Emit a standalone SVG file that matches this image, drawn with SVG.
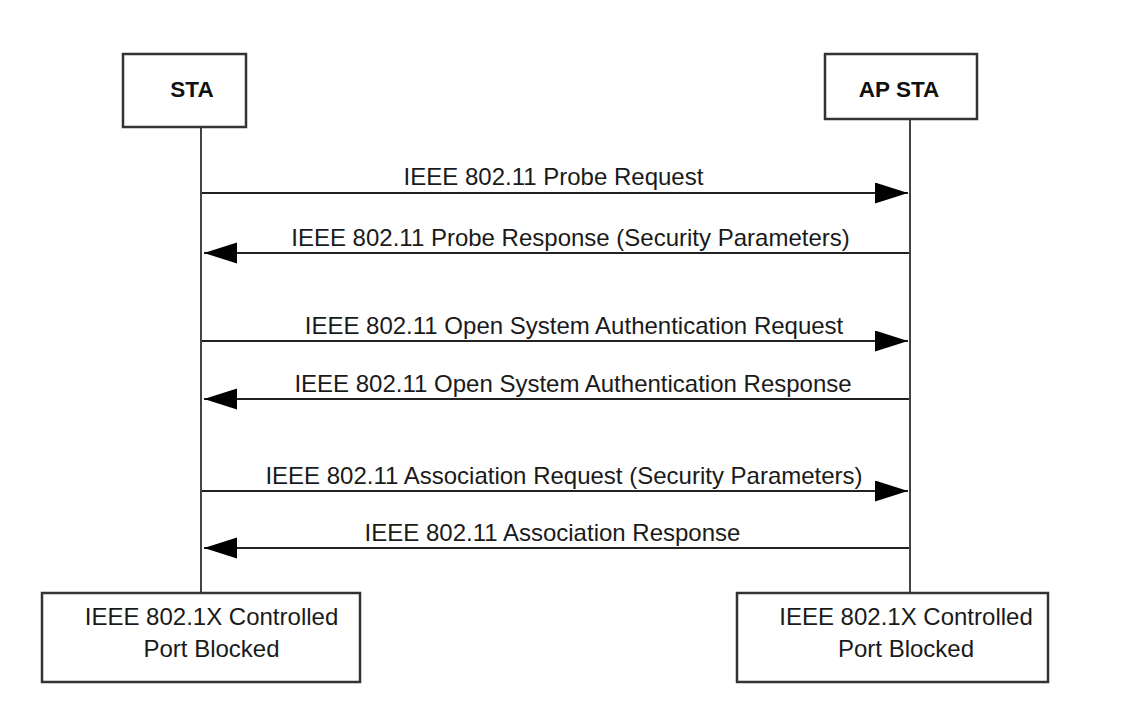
<svg xmlns="http://www.w3.org/2000/svg" width="1126" height="718" viewBox="0 0 1126 718">
<style>
.box{fill:#fff;stroke:#333;stroke-width:2.5}
.life{stroke:#444;stroke-width:2;fill:none}
.msg{stroke:#222;stroke-width:2;fill:none}
.t{font-family:"Liberation Sans",Arial,sans-serif;font-size:24px;fill:#1a1a1a;text-anchor:middle}
.b{font-family:"Liberation Sans",Arial,sans-serif;font-size:22.5px;font-weight:bold;fill:#111;text-anchor:middle}
</style>
<defs>
<marker id="ah" markerWidth="34" markerHeight="22" refX="33" refY="10.5" orient="auto" markerUnits="userSpaceOnUse">
<path d="M0,0 L33,10.5 L0,21 Z" fill="#000"/>
</marker>
</defs>
<rect width="1126" height="718" fill="#fff"/>
<g id="lifelines">
<line class="life" x1="201" y1="127" x2="201" y2="593"/>
<line class="life" x1="910" y1="119" x2="910" y2="593"/>
</g>
<g id="sta">
<rect class="box" x="123" y="54" width="123" height="73"/>
<text class="b" x="192" y="97">STA</text>
</g>
<g id="apsta">
<rect class="box" x="825" y="54" width="152" height="65"/>
<text class="b" x="899" y="97">AP STA</text>
</g>
<g id="connectors">
<line class="msg" x1="202" y1="193" x2="908" y2="193" marker-end="url(#ah)"/>
<line class="msg" x1="909" y1="253" x2="204" y2="253" marker-end="url(#ah)"/>
<line class="msg" x1="202" y1="341" x2="908" y2="341" marker-end="url(#ah)"/>
<line class="msg" x1="909" y1="399" x2="204" y2="399" marker-end="url(#ah)"/>
<line class="msg" x1="202" y1="491" x2="908" y2="491" marker-end="url(#ah)"/>
<line class="msg" x1="909" y1="548" x2="204" y2="548" marker-end="url(#ah)"/>
<text class="t" x="553.5" y="185">IEEE 802.11 Probe Request</text>
<text class="t" x="570.5" y="246">IEEE 802.11 Probe Response (Security Parameters)</text>
<text class="t" x="574" y="334">IEEE 802.11 Open System Authentication Request</text>
<text class="t" x="573" y="392">IEEE 802.11 Open System Authentication Response</text>
<text class="t" x="564" y="484">IEEE 802.11 Association Request (Security Parameters)</text>
<text class="t" x="552.5" y="541">IEEE 802.11 Association Response</text>
</g>
<g id="sta-port">
<rect class="box" x="42" y="593" width="318" height="89"/>
<text class="t" x="211.5" y="625">IEEE 802.1X Controlled</text>
<text class="t" x="211.5" y="657">Port Blocked</text>
</g>
<g id="ap-port">
<rect class="box" x="737" y="593" width="311" height="89"/>
<text class="t" x="906" y="625">IEEE 802.1X Controlled</text>
<text class="t" x="906" y="657">Port Blocked</text>
</g>
</svg>
